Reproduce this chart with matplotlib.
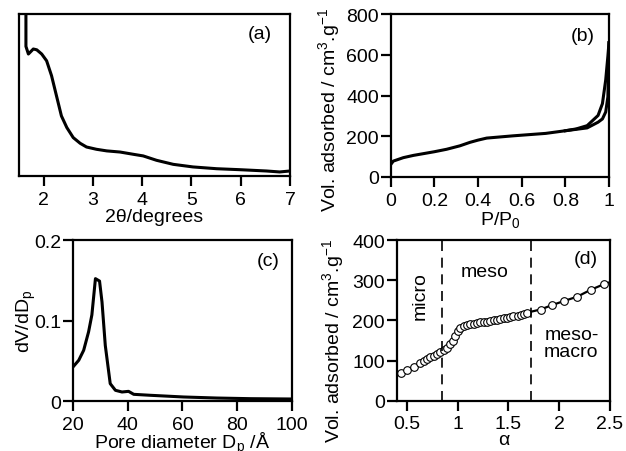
import matplotlib
matplotlib.use('Agg')
import matplotlib.pyplot as plt

plt.rcParams['font.family'] = ['Liberation Sans', 'DejaVu Sans']
plt.rcParams['mathtext.default'] = 'regular'
plt.rcParams['font.size'] = 14

# (a) low-angle XRD pattern (intensity in arbitrary units)
xrd_2theta = [1.64, 1.64, 1.69, 1.79, 1.86, 1.96, 2.06, 2.16, 2.26, 2.36, 2.47, 2.6,
              2.74, 2.87, 3.07, 3.28, 3.55, 3.82, 4.02, 4.29, 4.63, 5.03, 5.51,
              5.98, 6.52, 6.79, 7.0]
xrd_int = [1.2, 0.80, 0.753, 0.784, 0.779, 0.753, 0.711, 0.619, 0.495, 0.371, 0.299,
           0.237, 0.202, 0.179, 0.165, 0.155, 0.148, 0.134, 0.124, 0.097, 0.072,
           0.056, 0.045, 0.039, 0.031, 0.025, 0.031]

# (b) N2 isotherm
ads_p = [0.0, 0.012, 0.058, 0.104, 0.2, 0.256, 0.317, 0.363, 0.4, 0.44, 0.56, 0.71,
         0.8, 0.85, 0.9, 0.95, 0.97, 0.985, 0.995, 1.0]
ads_v = [61, 78, 95, 106, 124, 136, 153, 170, 181, 191, 202, 214, 227, 234, 241, 269,
         285, 319, 393, 659]
des_p = [0.8, 0.85, 0.9, 0.95, 0.97, 0.985, 0.995, 1.0]
des_v = [227, 236, 252, 302, 360, 476, 593, 659]

# (c) pore size distribution
pore_d = [20, 22.1, 23.9, 25.7, 26.9, 28.2, 29.7, 30.6, 31.8, 33.6, 35.5, 37.9, 40.3,
          42.2, 48.3, 60.4, 72.6, 84.8, 100]
dvdd = [0.0423, 0.0506, 0.063, 0.086, 0.107, 0.152, 0.149, 0.123, 0.069, 0.0216,
        0.0133, 0.0112, 0.012, 0.0083, 0.0071, 0.005, 0.0037, 0.0029, 0.0025]

# (d) alpha-s plot
alpha_s = [0.44, 0.5, 0.566, 0.632, 0.664, 0.697, 0.73, 0.763, 0.796, 0.829, 0.862,
           0.895, 0.928, 0.954, 0.977, 1.0, 1.026, 1.059, 1.092, 1.125, 1.158, 1.19,
           1.22, 1.26, 1.29, 1.32, 1.36, 1.39, 1.42, 1.46, 1.49, 1.52, 1.55, 1.59,
           1.62, 1.65, 1.68, 1.816, 1.93, 2.046, 2.178, 2.31, 2.44]
alpha_v = [68, 76, 85, 93, 99, 104, 108, 112, 116, 122, 126, 132, 140, 149, 161, 173,
           182, 187, 188, 190, 192, 193, 195, 196, 197, 199, 200, 202, 203, 205, 206,
           208, 210, 212, 214, 216, 219, 227, 238, 248, 259, 276, 290]
alpha_end = 2.5
alpha_end_v = 295
region_bounds = [0.845, 1.72]

vol_label = 'Vol. adsorbed / cm$^3$.g$^{-1}$'


def style_axes(ax):
    for s in ax.spines.values():
        s.set_linewidth(1.6)
    ax.tick_params(direction='out', length=7.5, width=1.6, pad=3)
    ax.tick_params(axis='y', pad=1)


fig = plt.figure(figsize=(6.26, 4.52), dpi=100)

ax_a = fig.add_axes([0.0304, 0.6084, 0.4329, 0.3584])
ax_b = fig.add_axes([0.6241, 0.6062, 0.3487, 0.3606])
ax_c = fig.add_axes([0.1166, 0.1106, 0.3498, 0.3562])
ax_d = fig.add_axes([0.6337, 0.1113, 0.3407, 0.3555])

# (a)
ax_a.plot(xrd_2theta, xrd_int, color='black', lw=2.2)
ax_a.set_xlim(1.5, 7)
ax_a.set_ylim(0, 1)
ax_a.set_xticks([2, 3, 4, 5, 6, 7])
ax_a.set_yticks([])
ax_a.set_xlabel('2θ/degrees', labelpad=0)
ax_a.text(0.89, 0.88, '(a)', transform=ax_a.transAxes, ha='center', va='center')
style_axes(ax_a)

# (b)
ax_b.plot(ads_p, ads_v, color='black', lw=2.2)
ax_b.plot(des_p, des_v, color='black', lw=2.2)
ax_b.set_xlim(0, 1)
ax_b.set_ylim(0, 800)
ax_b.set_xticks([0, 0.2, 0.4, 0.6, 0.8, 1])
ax_b.set_xticklabels(['0', '0.2', '0.4', '0.6', '0.8', '1'])
ax_b.set_yticks([0, 200, 400, 600, 800])
ax_b.set_xlabel('P/P$_0$', labelpad=0)
ax_b.set_ylabel(vol_label)
ax_b.yaxis.set_label_coords(-0.225, 0.42)
ax_b.text(0.88, 0.87, '(b)', transform=ax_b.transAxes, ha='center', va='center')
style_axes(ax_b)

# (c)
ax_c.plot(pore_d, dvdd, color='black', lw=2.2)
ax_c.set_xlim(20, 100)
ax_c.set_ylim(0, 0.2)
ax_c.set_xticks([20, 40, 60, 80, 100])
ax_c.set_yticks([0, 0.1, 0.2])
ax_c.set_yticklabels(['0', '0.1', '0.2'])
ax_c.set_xlabel('Pore diameter D$_p$ /Å', labelpad=-2)
ax_c.set_ylabel('dV/dD$_p$')
ax_c.yaxis.set_label_coords(-0.16, 0.5)
ax_c.text(0.89, 0.87, '(c)', transform=ax_c.transAxes, ha='center', va='center')
style_axes(ax_c)

# (d)
ax_d.plot(alpha_s + [alpha_end], alpha_v + [alpha_end_v], color='black', lw=1.6)
ax_d.plot(alpha_s, alpha_v, 'o', ms=5.5, mfc='white', mec='black', mew=0.8)
for b in region_bounds:
    ax_d.axvline(b, color='black', lw=1.2, ls=(0, (6, 4)))
ax_d.set_xlim(0.4, 2.5)
ax_d.set_ylim(0, 400)
ax_d.set_xticks([0.5, 1, 1.5, 2, 2.5])
ax_d.set_xticklabels(['0.5', '1', '1.5', '2', '2.5'])
ax_d.set_yticks([0, 100, 200, 300, 400])
ax_d.set_xlabel('α', labelpad=-1)
ax_d.set_ylabel(vol_label)
ax_d.yaxis.set_label_coords(-0.24, 0.38)
ax_d.text(0.63, 263, 'micro', rotation=90, ha='center', va='center')
ax_d.text(1.27, 321, 'meso', ha='center', va='center')
ax_d.text(2.12, 143, 'meso-\nmacro', ha='center', va='center', linespacing=1.0)
ax_d.text(2.26, 354, '(d)', ha='center', va='center')
style_axes(ax_d)

fig.savefig('out.png', dpi=100)
